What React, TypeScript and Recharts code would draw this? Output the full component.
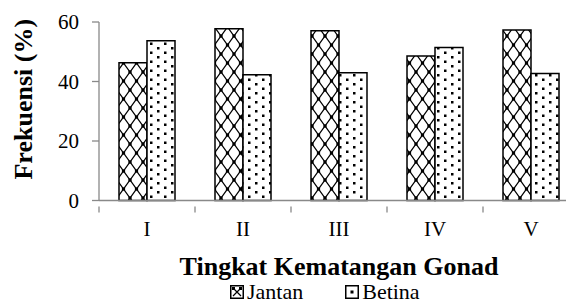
import { BarChart, Bar, XAxis, YAxis, Legend } from 'recharts'

const categories = ['I', 'II', 'III', 'IV', 'V']
const jantan = [46.3, 57.7, 57.1, 48.6, 57.3]
const betina = [53.7, 42.3, 42.9, 51.4, 42.7]
const yTicks = [0, 20, 40, 60]

const data = categories.map((name, i) => ({ name, jantan: jantan[i], betina: betina[i] }))

const FONT = '"Liberation Serif", "Times New Roman", Times, serif'
const AXIS = '#898989'

function CategoryTick(props: any) {
  const { x, y, payload } = props
  const band = 96
  return (
    <g>
      <line x1={x - band / 2} x2={x - band / 2} y1={y - 15} y2={y - 9} stroke={AXIS} strokeWidth={1.3} />
      <text x={x} y={y} dy="0.71em" textAnchor="middle" fontSize={21} style={{ fontFamily: FONT }} fill="#000">
        {payload.value}
      </text>
    </g>
  )
}

function ValueTick(props: any) {
  const { x, y, payload } = props
  return (
    <text x={x + 1} y={y} dy="0.355em" textAnchor="end" fontSize={21} style={{ fontFamily: FONT }} fill="#000">
      {payload.value}
    </text>
  )
}

function XTitle(props: any) {
  const vb = props.viewBox || {}
  const cx = vb.x + vb.width / 2
  return (
    <text x={cx} y={vb.y + 74} textAnchor="middle" fontSize={26} fontWeight="bold" style={{ fontFamily: FONT }} fill="#000">
      Tingkat Kematangan Gonad
    </text>
  )
}

function YTitle(props: any) {
  const vb = props.viewBox || {}
  const cx = vb.x + 23
  const cy = vb.y + vb.height / 2 - 12
  return (
    <text
      x={cx}
      y={cy}
      transform={`rotate(-90 ${cx} ${cy})`}
      textAnchor="middle"
      dominantBaseline="central"
      fontSize={26}
      fontWeight="bold"
      style={{ fontFamily: FONT }}
      fill="#000"
    >
      Frekuensi (%)
    </text>
  )
}

function LegendContent() {
  return (
    <div style={{ display: 'flex', alignItems: 'center', paddingLeft: 230, paddingTop: 4, fontFamily: FONT, fontSize: 22, lineHeight: '18px', color: '#000' }}>
      <svg width={14} height={14} style={{ marginRight: 3 }}>
        <rect x={0.75} y={0.75} width={12.5} height={12.5} fill="#fff" stroke="#000" strokeWidth={1.5} />
        <path d="M3 3 L11 11 M11 3 L3 11" stroke="#000" strokeWidth={1.2} />
        <rect x={2} y={2} width={3} height={3} fill="#000" />
        <rect x={9} y={2} width={3} height={3} fill="#000" />
      </svg>
      <span style={{ marginRight: 42 }}>Jantan</span>
      <svg width={14} height={14} style={{ marginRight: 3 }}>
        <rect x={0.75} y={0.75} width={12.5} height={12.5} fill="#fff" stroke="#000" strokeWidth={1.5} />
        <rect x={5.5} y={5.5} width={3} height={3} fill="#000" />
      </svg>
      <span>Betina</span>
    </div>
  )
}

export default function App() {
  return (
    <div style={{ position: 'absolute', left: 0, top: 0, width: 566, height: 303, overflow: 'hidden', background: '#fff' }}>
      <BarChart width={589} height={303} data={data} margin={{ top: 22, right: 10, left: 0, bottom: 0 }} barGap={0} barSize={28}>
        <defs>
          <pattern id="jantanPat" patternUnits="userSpaceOnUse" width={13} height={18}>
            <rect width={13} height={18} fill="#fff" />
            <path d="M0 0 L13 18 M13 0 L0 18" stroke="#000" strokeWidth={1.3} />
            <rect x={-1.6} y={-1.6} width={3.2} height={3.2} fill="#000" />
            <rect x={11.4} y={-1.6} width={3.2} height={3.2} fill="#000" />
            <rect x={-1.6} y={16.4} width={3.2} height={3.2} fill="#000" />
            <rect x={11.4} y={16.4} width={3.2} height={3.2} fill="#000" />
            <rect x={4.9} y={7.4} width={3.2} height={3.2} fill="#000" />
          </pattern>
          <pattern id="betinaPat" patternUnits="userSpaceOnUse" width={14} height={9}>
            <rect width={14} height={9} fill="#fff" />
            <rect x={3} y={2} width={2.5} height={2.5} fill="#000" />
            <rect x={10} y={6.5} width={2.5} height={2.5} fill="#000" />
          </pattern>
        </defs>
        <XAxis
          dataKey="name"
          height={78.5}
          stroke={AXIS}
          strokeWidth={1.3}
          tickLine={false}
          tickSize={6}
          tickMargin={15}
          tick={<CategoryTick />}
          label={<XTitle />}
        />
        <YAxis
          domain={[0, 60]}
          ticks={yTicks}
          width={99}
          stroke={AXIS}
          strokeWidth={1.3}
          tickSize={7}
          tickMargin={14}
          tick={<ValueTick />}
          label={<YTitle />}
        />
        <Legend verticalAlign="bottom" height={24} content={<LegendContent />} />
        <Bar dataKey="jantan" name="Jantan" fill="url(#jantanPat)" stroke="#000" strokeWidth={1.5} isAnimationActive={false} />
        <Bar dataKey="betina" name="Betina" fill="url(#betinaPat)" stroke="#000" strokeWidth={1.5} isAnimationActive={false} />
      </BarChart>
    </div>
  )
}
